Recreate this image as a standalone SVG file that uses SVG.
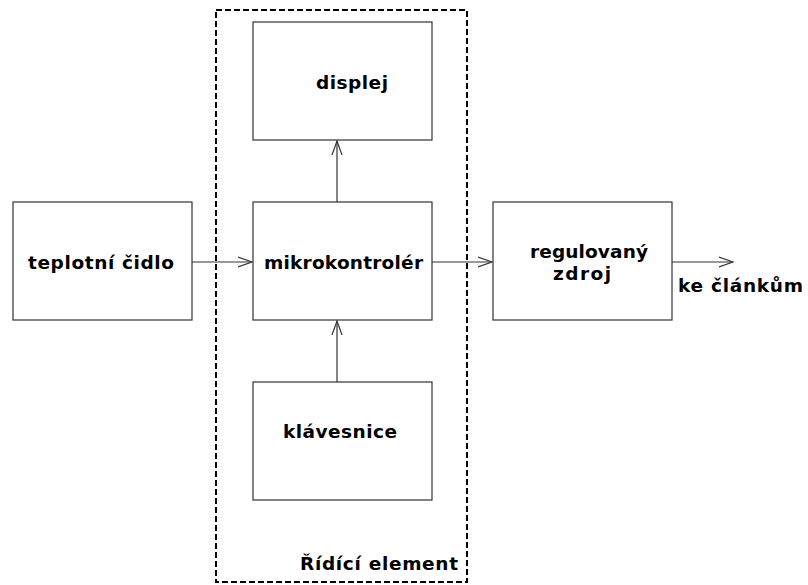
<svg xmlns="http://www.w3.org/2000/svg" width="808" height="585" viewBox="0 0 808 585">
<style>
.box{fill:#fff;stroke:#333;stroke-width:1.2}
.t{font-family:"DejaVu Sans",sans-serif;font-weight:bold;font-size:18.5px;fill:#000}
.c{stroke:#333;stroke-width:1.2;fill:none}
.frame{fill:none;stroke:#000;stroke-width:2;stroke-dasharray:6 3}
</style>
<defs>
<marker id="ah" markerWidth="16" markerHeight="12" refX="14" refY="6" orient="auto" markerUnits="userSpaceOnUse">
<path d="M0,1 L14,6 L0,11" fill="none" stroke="#333" stroke-width="1.2"/>
</marker>
</defs>
<rect width="808" height="585" fill="#fff"/>
<g id="frame">
<rect class="frame" x="216" y="10" width="251" height="572"/>
<text class="t" x="300" y="570" textLength="158">Řídící element</text>
</g>
<g id="connectors">
<line class="c" x1="192" y1="262" x2="252" y2="262" marker-end="url(#ah)"/>
<line class="c" x1="337" y1="202" x2="337" y2="141" marker-end="url(#ah)"/>
<line class="c" x1="337" y1="382" x2="337" y2="321" marker-end="url(#ah)"/>
<line class="c" x1="432" y1="262" x2="492" y2="262" marker-end="url(#ah)"/>
<line class="c" x1="672" y1="262" x2="733" y2="262" marker-end="url(#ah)"/>
</g>
<g id="teplotni">
<rect class="box" x="13" y="202" width="179" height="118"/>
<text class="t" x="28" y="269" textLength="146">teplotní čidlo</text>
</g>
<g id="displej">
<rect class="box" x="253" y="22" width="179" height="118"/>
<text class="t" x="316" y="89" textLength="72">displej</text>
</g>
<g id="mikrokontroler">
<rect class="box" x="253" y="202" width="179" height="118"/>
<text class="t" x="264" y="269" textLength="159">mikrokontrolér</text>
</g>
<g id="klavesnice">
<rect class="box" x="253" y="382" width="179" height="118"/>
<text class="t" x="283" y="438" textLength="114">klávesnice</text>
</g>
<g id="zdroj">
<rect class="box" x="493" y="202" width="179" height="118"/>
<text class="t" x="530" y="258" textLength="118">regulovaný</text>
<text class="t" x="553" y="280" textLength="58">zdroj</text>
</g>
<g id="out">
<text class="t" x="678" y="292" textLength="125">ke článkům</text>
</g>
</svg>
